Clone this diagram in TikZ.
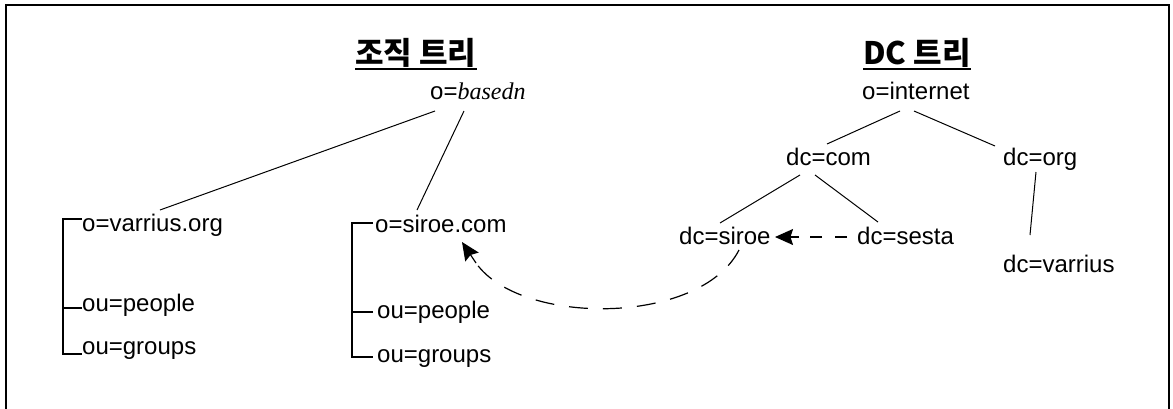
\documentclass[tikz,border=0pt]{standalone}
\usepackage{fontspec}
\setmainfont{Liberation Sans}
\newfontfamily\krfont{Noto Sans CJK KR}
\newfontfamily\itserif{Liberation Serif}
\usetikzlibrary{arrows.meta,calc}
\tikzset{
  lbl/.style={anchor=base west, inner sep=0pt, font=\fontsize{24}{28}\selectfont},
  ttl/.style={anchor=base west, inner sep=0pt, font=\krfont\bfseries\fontsize{31}{35}\selectfont},
  edge/.style={line width=1pt},
  bracket/.style={line width=2pt},
  frame/.style={line width=2pt},
  link/.style={line width=1.2pt},
  tip/.style={line width=1.2pt, -{Stealth[length=18pt,width=16pt,inset=2.5pt]}}
}
\begin{document}
\begin{tikzpicture}[x=1pt,y=-1pt]
\useasboundingbox (0,0) rectangle (1173,408);
\draw[frame] (6,410) -- (6,5) -- (1169,5) -- (1169,410);

% titles
\node[ttl] (t1) at (355,64) {조직 트리};
\node[ttl] (t2) at (863,64) {DC 트리};
\draw[bracket] ([yshift=-5pt]t1.base west) -- ([yshift=-5pt]t1.base east);
\draw[bracket] ([yshift=-5pt]t2.base west) -- ([yshift=-5pt]t2.base east);

% organisation tree
\node[lbl] (basedn) at (430,99) {o=\itserif\itshape basedn};
\node[lbl] (ovarrius) at (82,231) {o=varrius.org};
\node[lbl] (lpeople) at (82,311) {ou=people};
\node[lbl] (lgroups) at (82,354) {ou=groups};
\node[lbl] (osiroe) at (375,232) {o=siroe.com};
\node[lbl] (rpeople) at (377,318) {ou=people};
\node[lbl] (rgroups) at (377,362) {ou=groups};

% DC tree
\node[lbl] (internet) at (862,99) {o=internet};
\node[lbl] (dccom) at (786,165) {dc=com};
\node[lbl] (dcorg) at (1003,165) {dc=org};
\node[lbl] (dcsiroe) at (679,244) {dc=siroe};
\node[lbl] (dcsesta) at (857,244) {dc=sesta};
\node[lbl] (dcvarrius) at (1003,272) {dc=varrius};

% tree edges
\draw[edge] ([xshift=5pt,yshift=-12pt]basedn.base west) -- ([xshift=78pt,yshift=21pt]ovarrius.base west);
\draw[edge] ([xshift=34pt,yshift=-12pt]basedn.base west) -- ([xshift=42pt,yshift=22pt]osiroe.base west);
\draw[edge] ([xshift=38pt,yshift=-12pt]internet.base west) -- ([xshift=41pt,yshift=21pt]dccom.base west);
\draw[edge] ([xshift=52pt,yshift=-12pt]internet.base west) -- ([xshift=-8pt,yshift=19pt]dcorg.base west);
\draw[edge] ([xshift=14pt,yshift=-10pt]dccom.base west) -- ([xshift=41pt,yshift=21pt]dcsiroe.base west);
\draw[edge] ([xshift=29pt,yshift=-10pt]dccom.base west) -- ([xshift=21pt,yshift=22pt]dcsesta.base west);
\draw[edge] ([xshift=33pt,yshift=-7pt]dcorg.base west) -- ([xshift=27pt,yshift=37pt]dcvarrius.base west);

% brackets
\draw[bracket] ([yshift=12pt]ovarrius.base west) -- ++(-19,0) |- (lgroups.base west);
\draw[bracket] ([yshift=3pt]lpeople.base west) -- ++(-19,0);
\draw[bracket] ([xshift=-2pt,yshift=9pt]osiroe.base west) -- ++(-21,0) |- ([xshift=-4pt,yshift=5pt]rgroups.base west);
\draw[bracket] ([xshift=-4pt,yshift=6pt]rpeople.base west) -- ++(-21,0);

% dashed links
\coordinate (h1) at ([xshift=-10pt,yshift=7pt]dcsesta.base west);
\coordinate (h2) at ([xshift=96pt,yshift=7pt]dcsiroe.base west);
\draw[link, dash pattern=on 12pt off 13pt] (h1) -- ($(h2)+(24,0)$);
\draw[tip] ($(h2)+(24,0)$) -- (h2);
\coordinate (c1) at ([xshift=60pt,yshift=-6pt]dcsiroe.base west);
\coordinate (c2) at ([xshift=87pt,yshift=-10pt]osiroe.base west);
\draw[link, dash pattern=on 19pt off 15pt] (c1) .. controls (700,326) and (520,326) .. ($(c2)+(14,21)$);
\draw[tip] ($(c2)+(14,21)$) -- (c2);
\end{tikzpicture}
\end{document}
